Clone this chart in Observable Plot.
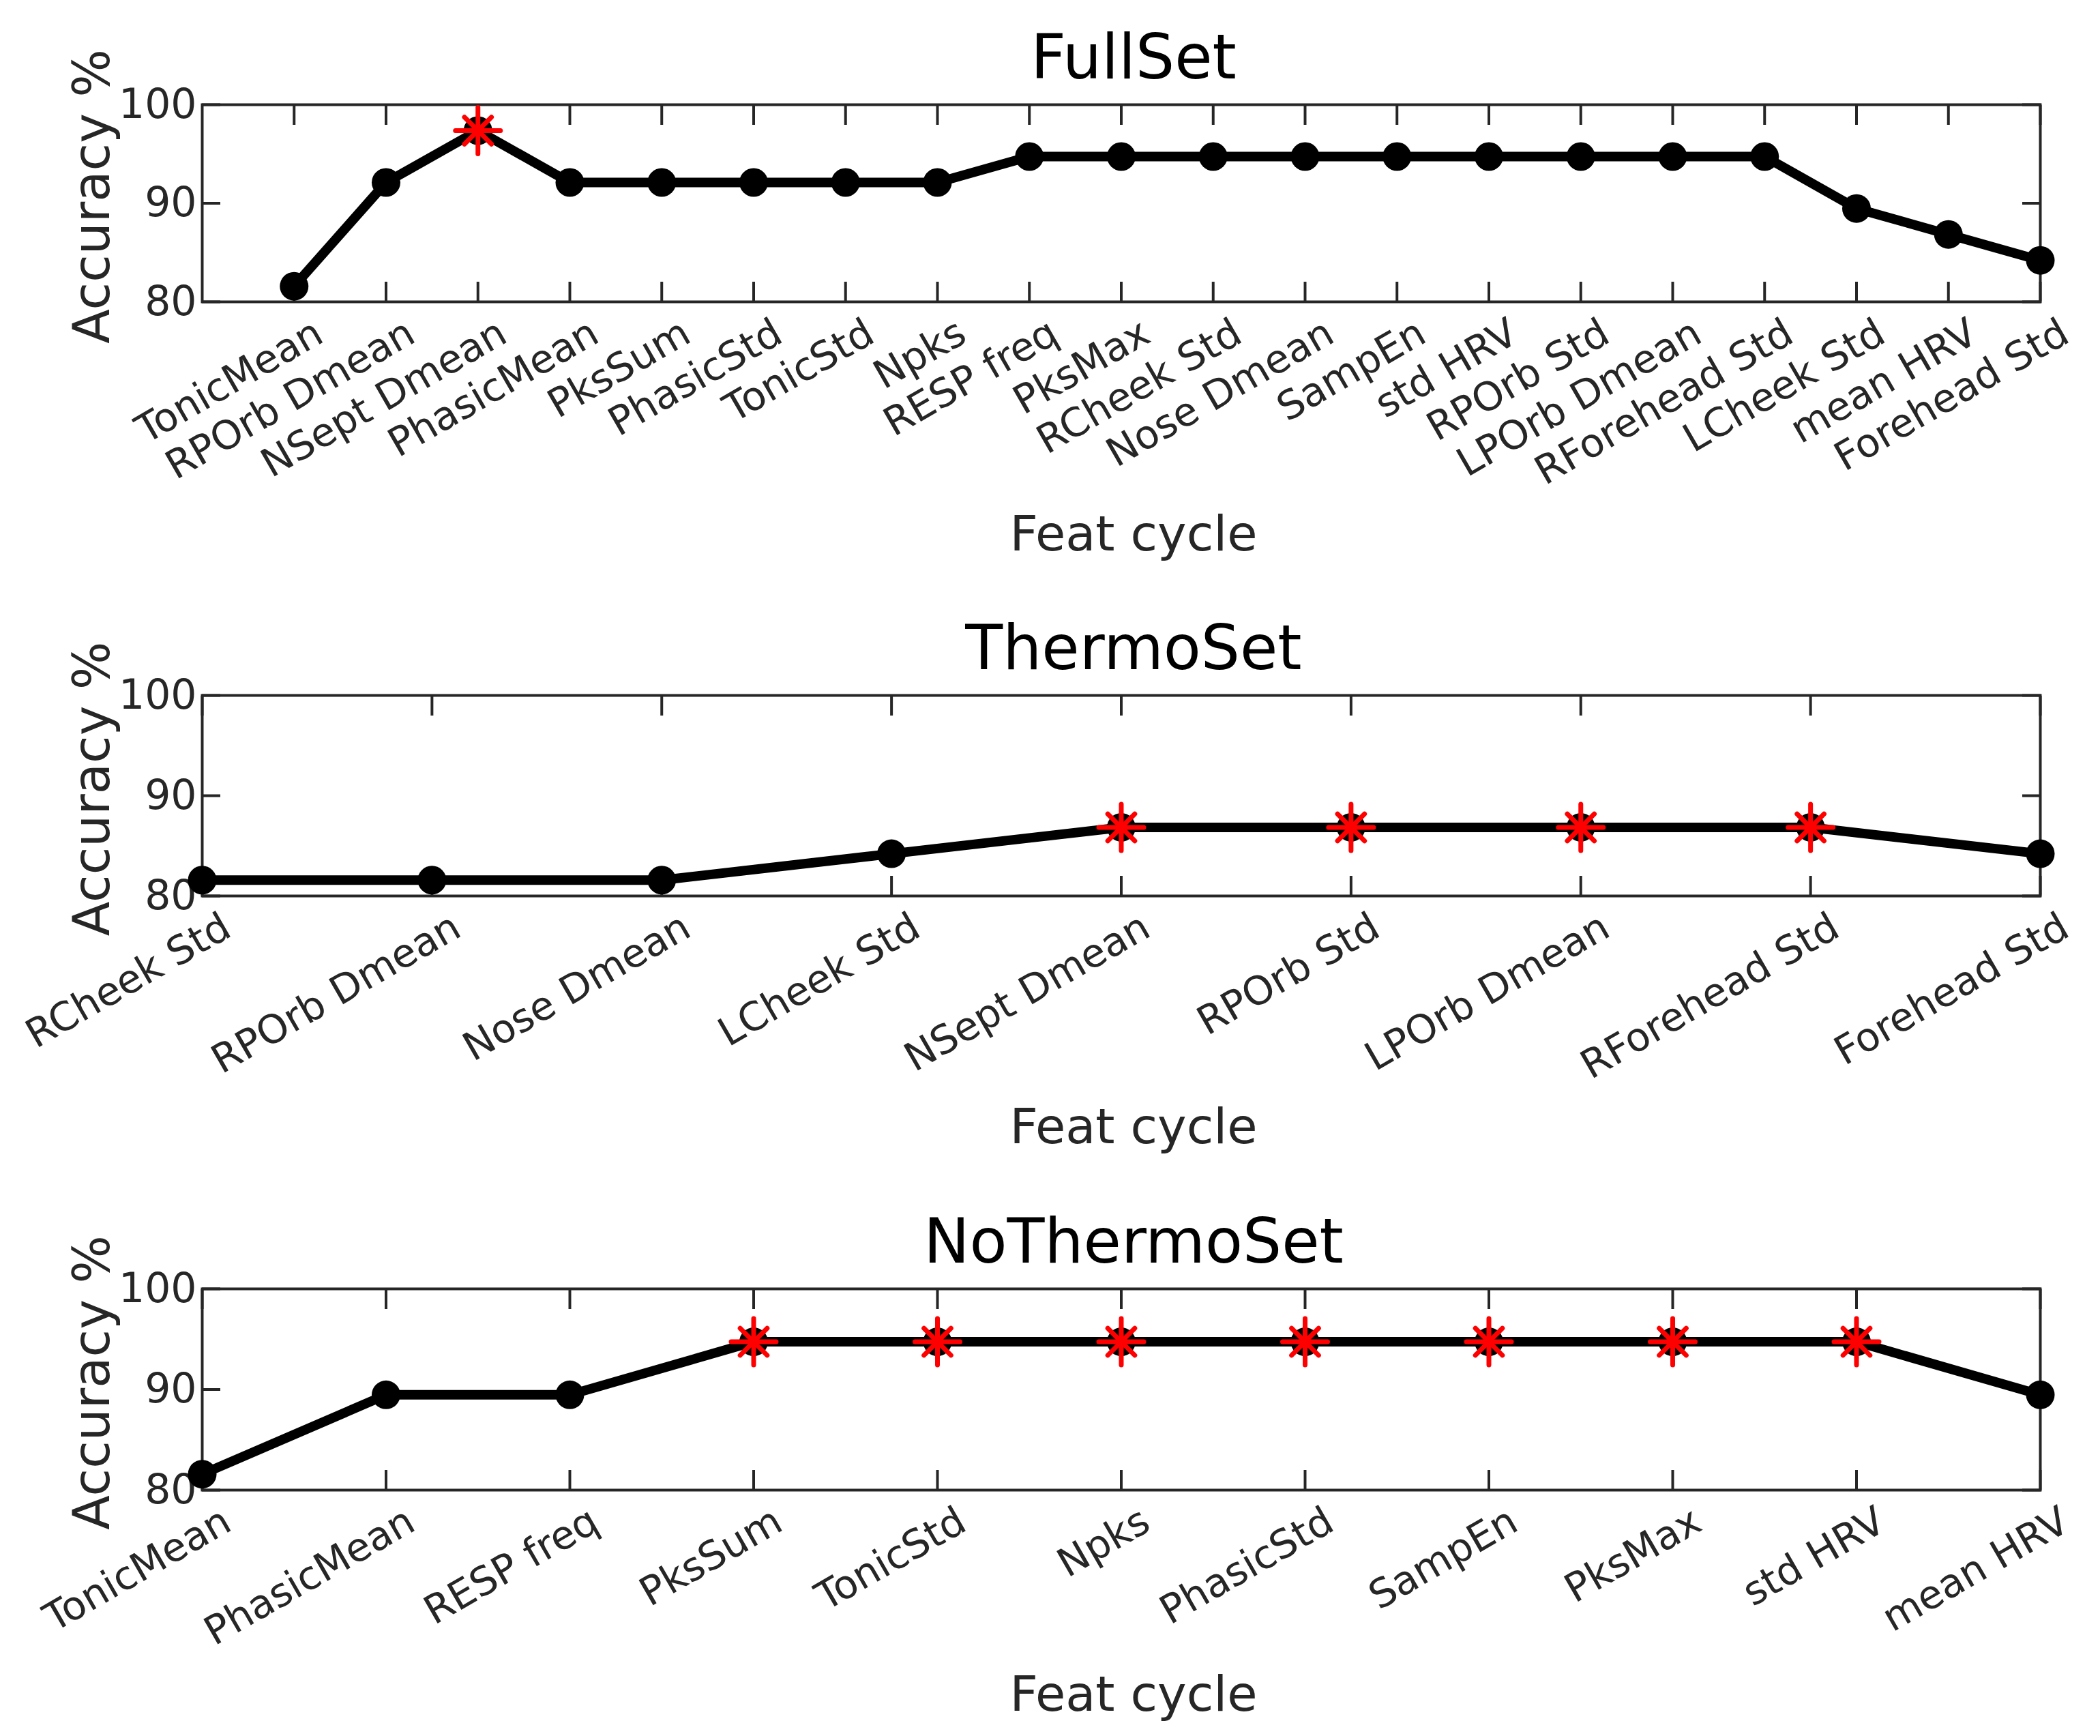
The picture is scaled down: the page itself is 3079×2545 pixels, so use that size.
<!DOCTYPE html>
<html>
<head>
<meta charset="utf-8">
<script src="https://cdn.jsdelivr.net/npm/d3@7"></script>
<script src="https://cdn.jsdelivr.net/npm/@observablehq/plot@0.6"></script>
<style>
  body { margin: 0; background: #fff; }
  #chart svg { display: block; overflow: visible; }
</style>
</head>
<body>
<div id="chart"></div>
<script>
// accuracies are multiples of 1/38 (81.58, 84.21, 86.84, 89.47, 92.11, 94.74, 97.37)
const fullNames = ["TonicMean", "RPOrb Dmean", "NSept Dmean", "PhasicMean", "PksSum", "PhasicStd", "TonicStd", "Npks", "RESP freq", "PksMax",
  "RCheek Std", "Nose Dmean", "SampEn", "std HRV", "RPOrb Std", "LPOrb Dmean", "RForehead Std", "LCheek Std", "mean HRV", "Forehead Std"];
const fullAcc = [81.58, 92.11, 97.37, 92.11, 92.11, 92.11, 92.11, 92.11, 94.74, 94.74,
  94.74, 94.74, 94.74, 94.74, 94.74, 94.74, 94.74, 89.47, 86.84, 84.21];
const fullBest = [2];

const thermoNames = ["RCheek Std", "RPOrb Dmean", "Nose Dmean", "LCheek Std", "NSept Dmean", "RPOrb Std", "LPOrb Dmean", "RForehead Std", "Forehead Std"];
const thermoAcc = [81.58, 81.58, 81.58, 84.21, 86.84, 86.84, 86.84, 86.84, 84.21];
const thermoBest = [4, 5, 6, 7];

const noThermoNames = ["TonicMean", "PhasicMean", "RESP freq", "PksSum", "TonicStd", "Npks", "PhasicStd", "SampEn", "PksMax", "std HRV", "mean HRV"];
const noThermoAcc = [81.58, 89.47, 89.47, 94.74, 94.74, 94.74, 94.74, 94.74, 94.74, 94.74, 89.47];
const noThermoBest = [3, 4, 5, 6, 7, 8, 9];

const yTicks = [80, 90, 100];

const ink = "#262626";
const spoke = { draw(ctx, l) { ctx.moveTo(0, 0); ctx.lineTo(0, -l); } };

function panel(title, names, acc, best, cfg) {
  const rows = names.map((name, i) => ({ pos: i + cfg.shift, name, acc: acc[i] }));
  const stars = rows.filter((d, i) => best.includes(i));
  const star = (rotate, length) =>
    Plot.vector(stars, { x: "pos", y: "acc", rotate, length, anchor: "middle", shape: spoke, stroke: "#ff0000", strokeWidth: 7 });
  return Plot.plot({
    width: 3079,
    height: cfg.height,
    marginTop: cfg.top,
    marginBottom: cfg.bottom,
    marginLeft: 296,
    marginRight: 88,
    style: { fontFamily: "DejaVu Sans", background: "white", overflow: "visible" },
    x: { domain: cfg.domain },
    y: { domain: [80, 100] },
    marks: [
      Plot.frame({ stroke: ink, strokeWidth: 4 }),
      Plot.axisX(rows.map((d) => d.pos), { anchor: "bottom", tickSize: -29, text: null, label: null, stroke: ink, strokeWidth: 4 }),
      Plot.axisX(rows.map((d) => d.pos), { anchor: "top", tickSize: -29, text: null, label: null, stroke: ink, strokeWidth: 4 }),
      Plot.axisY(yTicks, { anchor: "left", tickSize: -27, text: null, label: null, stroke: ink, strokeWidth: 4 }),
      Plot.axisY(yTicks, { anchor: "right", tickSize: -27, text: null, label: null, stroke: ink, strokeWidth: 4 }),
      Plot.text(yTicks, { y: (d) => d, frameAnchor: "left", text: (d) => String(d), textAnchor: "end", dx: -8, fontSize: 60, fill: ink }),
      Plot.text(rows, { x: "pos", frameAnchor: "bottom", text: "name", rotate: -30, textAnchor: "end", lineAnchor: "bottom", dx: 46, dy: 57, fontSize: 58, fill: ink }),
      Plot.line(rows, { x: "pos", y: "acc", stroke: "black", strokeWidth: 14 }),
      Plot.dot(rows, { x: "pos", y: "acc", r: 21, fill: "black" }),
      star(0, 68),
      star(90, 66),
      star(45, 56),
      star(135, 56),
      Plot.text([title], { text: (d) => d, frameAnchor: "top", textAnchor: "middle", lineAnchor: "bottom", dx: 18, dy: -39, fontSize: 90, fill: "black" }),
      Plot.text(["Accuracy %"], { text: (d) => d, frameAnchor: "left", textAnchor: "middle", rotate: -90, lineAnchor: "bottom", dx: -137, dy: -10, fontSize: 74, fill: ink }),
      Plot.text(["Feat cycle"], { text: (d) => d, frameAnchor: "bottom", textAnchor: "middle", lineAnchor: "bottom", dx: 18, dy: cfg.xlab, fontSize: 72, fill: ink })
    ]
  });
}

const div = document.querySelector("#chart");
div.append(panel("FullSet", fullNames, fullAcc, fullBest, { shift: 1, domain: [0, 20], height: 880, top: 153, bottom: 438, xlab: 364 }));
div.append(panel("ThermoSet", thermoNames, thermoAcc, thermoBest, { shift: 0, domain: [0, 8], height: 860, top: 139, bottom: 427, xlab: 362 }));
div.append(panel("NoThermoSet", noThermoNames, noThermoAcc, noThermoBest, { shift: 0, domain: [0, 10], height: 805, top: 149, bottom: 361, xlab: 323 }));
</script>
</body>
</html>
